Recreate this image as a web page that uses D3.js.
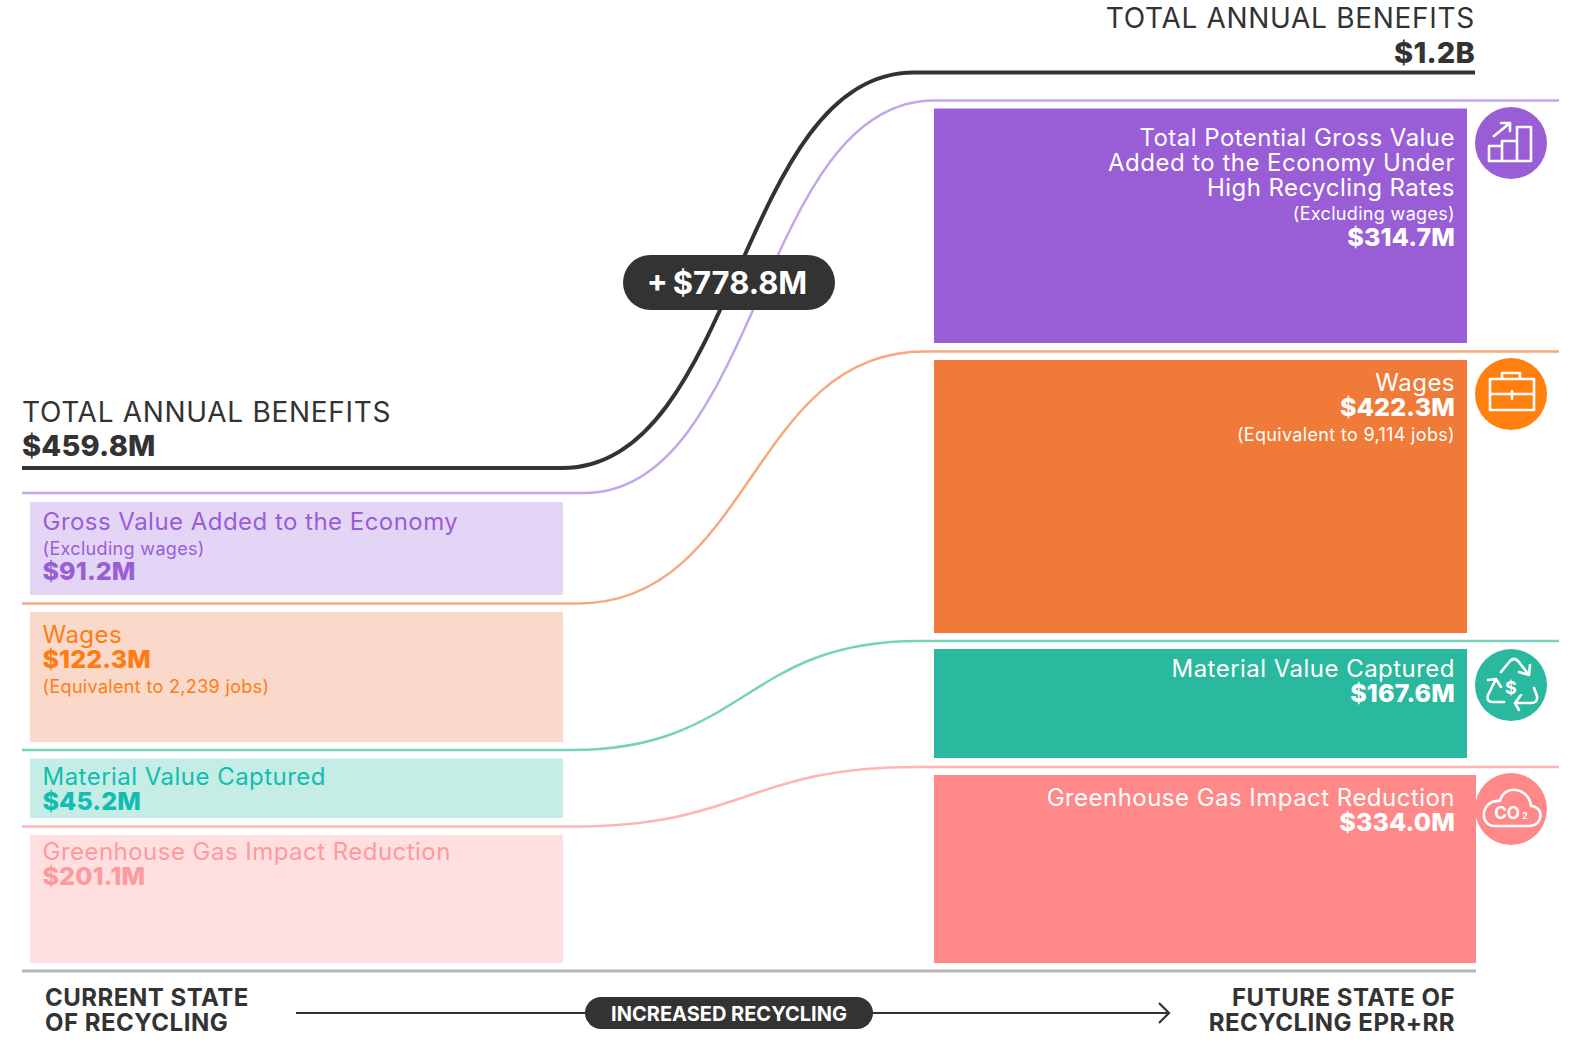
<!DOCTYPE html>
<html><head><meta charset="utf-8">
<script src="https://cdn.jsdelivr.net/npm/d3@7"></script>
<style>html,body{margin:0;padding:0;background:#fff}svg{display:block}text{font-family:Inter,sans-serif}</style>
</head><body><div id="c"></div>
<script>
// ---- data ----
const categories = ["Gross Value Added","Wages","Material Value Captured","Greenhouse Gas Impact Reduction"];
const currentValues = [91.2,122.3,45.2,201.1];
const futureValues = [314.7,422.3,167.6,334.0];
const currentTotal = "$459.8M", futureTotal = "$1.2B", increase = "+\u2009$778.8M";
const currentTitles = [["Gross Value Added to the Economy"],["Wages"],["Material Value Captured"],["Greenhouse Gas Impact Reduction"]];
const currentNotes = ["(Excluding wages)","(Equivalent to 2,239 jobs)",null,null];
const futureTitles = [["Total Potential Gross Value","Added to the Economy Under","High Recycling Rates"],["Wages"],["Material Value Captured"],["Greenhouse Gas Impact Reduction"]];
const futureNotes = ["(Excluding wages)","(Equivalent to 9,114 jobs)",null,null];

// ---- layout: the source chart's blocks are schematic, not proportional to value ----
const W=1575,H=1044;
const leftTop=d3.scaleOrdinal(categories,[502,612,758.5,835]);
const leftBottom=d3.scaleOrdinal(categories,[595,742,818,963]);
const rightTop=d3.scaleOrdinal(categories,[108.5,360,649,775]);
const rightBottom=d3.scaleOrdinal(categories,[343,633,758,963]);
const leftLine=d3.scaleOrdinal(categories,[493,603.5,750,826.5]);
const rightLine=d3.scaleOrdinal(categories,[100.5,351.5,641,767]);
const flowStart=d3.scaleOrdinal(categories,[584,578,572,572]);
const flowEnd=d3.scaleOrdinal(categories,[934,924,918,918]);
const rightEdge=d3.scaleOrdinal(categories,[1467,1467,1467,1476]);
const iconY=d3.scaleOrdinal(categories,[143,394,685,809]);
const strong=d3.scaleOrdinal(categories,["#995dd6","#f07a38","#2ab89e","#ff8888"]);
const iconFill=d3.scaleOrdinal(categories,["#995dd6","#ff7f0f","#2ab89e","#ff8888"]);
const pale=d3.scaleOrdinal(categories,["#e4d5f7","#fad9ca","#c6ede5","#ffdfe0"]);
const leftText=d3.scaleOrdinal(categories,["#995dd6","#ff7c12","#10bdb0","#ff9a9c"]);
const lineCol=d3.scaleOrdinal(categories,["#c3a6ea","#f5a97f","#74d2bd","#ffb4b6"]);
const fmt=v=>d3.format("$.1f")(v)+"M";
const ink="#333333";

const svg=d3.select("#c").append("svg").attr("width",W).attr("height",H);
const link=d3.link(d3.curveBumpX);

function flow(y0,y1,xa,xb,end,col,w){
  svg.append("path").attr("fill","none").attr("stroke",col).attr("stroke-width",w)
    .attr("d","M22,"+y0+"L"+xa+","+y0+link({source:[xa,y0],target:[xb,y1]}).replace(/^M[^C]*/,"")+"L"+end+","+y1);
}

// blocks
svg.selectAll("rect.left").data(categories).join("rect").attr("class","left")
  .attr("x",30).attr("width",533).attr("y",d=>leftTop(d)).attr("height",d=>leftBottom(d)-leftTop(d)).attr("fill",d=>pale(d));
svg.selectAll("rect.right").data(categories).join("rect").attr("class","right")
  .attr("x",934).attr("width",d=>rightEdge(d)-934).attr("y",d=>rightTop(d)).attr("height",d=>rightBottom(d)-rightTop(d)).attr("fill",d=>strong(d));

// flows
categories.forEach(c=>flow(leftLine(c),rightLine(c),flowStart(c),flowEnd(c),1559,lineCol(c),2.5));
flow(468,72.5,562,914,1475,ink,4);

function txt(x,y,s,size,weight,col,anchor,ls){
  return svg.append("text").attr("x",x).attr("y",y).attr("font-size",size).attr("font-weight",weight)
    .attr("fill",col).attr("text-anchor",anchor||"start").attr("letter-spacing",ls||0).text(s);
}
const LX=42.5,RX=1455;
const leftRows=[[530,555,580],[643,693,668],[785,null,810],[860,null,885]];
categories.forEach((c,i)=>{
  const r=leftRows[i],col=leftText(c);
  txt(LX,r[0],currentTitles[i][0],24,400,col,"start",0.47);
  if(currentNotes[i]) txt(LX,r[1],currentNotes[i],18,400,col,"start",0.33);
  txt(LX,r[2],fmt(currentValues[i]),25,800,col,"start",0.1);
});
const rightRows=[[146,220,245.5],[391,441,416],[677,null,702],[806,null,831]];
categories.forEach((c,i)=>{
  const r=rightRows[i];
  futureTitles[i].forEach((t,k)=>txt(RX,r[0]+k*25,t,24,400,"#fff","end",0.47));
  if(futureNotes[i]) txt(RX,r[1],futureNotes[i],18,400,"#fff","end",0.33);
  txt(RX,r[2],fmt(futureValues[i]),25,800,"#fff","end",0.15);
});

// totals
txt(22,422,"TOTAL ANNUAL BENEFITS",28,400,ink,"start",0.7);
txt(22,456,currentTotal,29,800,ink,"start",0.2);
txt(1475,28,"TOTAL ANNUAL BENEFITS",28,400,ink,"end",0.7);
txt(1475,63,futureTotal,29,800,ink,"end",0.2);

// increase pill
svg.append("rect").attr("x",623).attr("y",255).attr("width",212).attr("height",55).attr("rx",27.5).attr("fill",ink);
txt(727,294,increase,31,700,"#fff","middle");

// icons
const ig=svg.selectAll("g.icon").data(categories).join("g").attr("class","icon").attr("transform",d=>`translate(1511,${iconY(d)})`);
ig.append("circle").attr("r",36).attr("fill",d=>iconFill(d));
const stroke=(g,d,w)=>g.append("path").attr("d",d).attr("fill","none").attr("stroke","#fff").attr("stroke-width",w||2.6).attr("stroke-linejoin","round").attr("stroke-linecap","round");
const i0=ig.filter((d,i)=>i==0), i1=ig.filter((d,i)=>i==1), i2=ig.filter((d,i)=>i==2), i3=ig.filter((d,i)=>i==3);
stroke(i0,"M-22,18V3H-9V18ZM-9,18V-2H6V18ZM6,18V-16H20V18ZM-17,-7L-1,-20M-10,-20H-1V-12");
stroke(i1,"M-21,-15H23V16H-21ZM-21,0H23M-9,-15V-21H9V-15M1,-3V5");
stroke(i2,"M-10,-13L-1,-24Q3,-28 7,-24L18,-10M8,-13L18,-10L19,-20M-15,-6L-23,10Q-25,17 -18,17H-7M-23,-5L-15,-6L-10,2M23,3L26,11Q27,18 20,18H4M10,10L4,18L8,25");
i2.append("text").attr("y",9).attr("x",0).attr("text-anchor","middle").attr("font-size",18).attr("font-weight",700).attr("fill","#fff").text("$");
stroke(i3,"M-16,17H18C33,17 33,-3 20,-3C18,-22 -7,-25 -11,-8C-30,-10 -33,17 -16,17Z");
i3.append("text").attr("x",-4).attr("y",10).attr("text-anchor","middle").attr("font-size",17).attr("font-weight",700).attr("fill","#fff").text("CO");
i3.append("text").attr("x",11).attr("y",10).attr("text-anchor","start").attr("font-size",9).attr("font-weight",700).attr("fill","#fff").text("2");

// footer
svg.append("line").attr("x1",22).attr("x2",1476).attr("y1",971).attr("y2",971).attr("stroke","#b5b5b5").attr("stroke-width",3);
txt(45,1006,"CURRENT STATE",24,700,ink,"start",0.5);
txt(45,1031,"OF RECYCLING",24,700,ink,"start",0.5);
txt(1455,1006,"FUTURE STATE OF",24,700,ink,"end",0.5);
txt(1455,1031,"RECYCLING EPR+RR",24,700,ink,"end",0.5);
svg.append("path").attr("d","M296,1013H1168M1159,1003L1169,1013L1159,1023").attr("fill","none").attr("stroke",ink).attr("stroke-width",2.2);
svg.append("rect").attr("x",585).attr("y",997).attr("width",288).attr("height",32).attr("rx",16).attr("fill",ink);
txt(729,1020.5,"INCREASED RECYCLING",20,700,"#fff","middle");
</script></body></html>
